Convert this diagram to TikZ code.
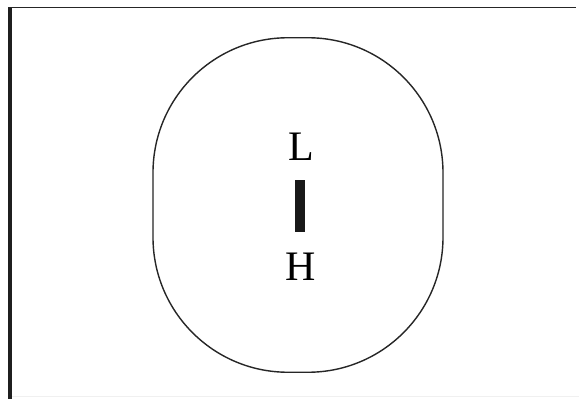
\documentclass[tikz,border=0pt]{standalone}
\usepackage{fontspec}
\setmainfont{Liberation Serif}
\begin{document}
\begin{tikzpicture}[x=1pt,y=-1pt,
  lbl/.style={inner sep=0pt, anchor=base, font=\fontsize{42}{42}\selectfont},
  outline/.style={draw=black!85, line width=1.4pt}]
\useasboundingbox (0,0) rectangle (579,399);
\fill[white] (0,0) rectangle (579,399);
% frame
\fill[black!88] (8,7) rectangle (11.5,399);
\draw[black!85, line width=1.7pt] (8,7.5) -- (576,7.5);
\draw[black!6, line width=1pt] (12,396) -- (579,396);
% rounded shape
\node[outline, rounded corners=135pt, minimum width=290pt, minimum height=334.5pt, inner sep=0pt] (body) at (298,205) {};
% labels
\node[lbl] (L) at (301,160) {L};
\node[lbl] (H) at (301,280) {H};
\node[fill=black!90, minimum width=10pt, minimum height=52pt, inner sep=0pt] (bar) at (300,206) {};
\end{tikzpicture}
\end{document}
